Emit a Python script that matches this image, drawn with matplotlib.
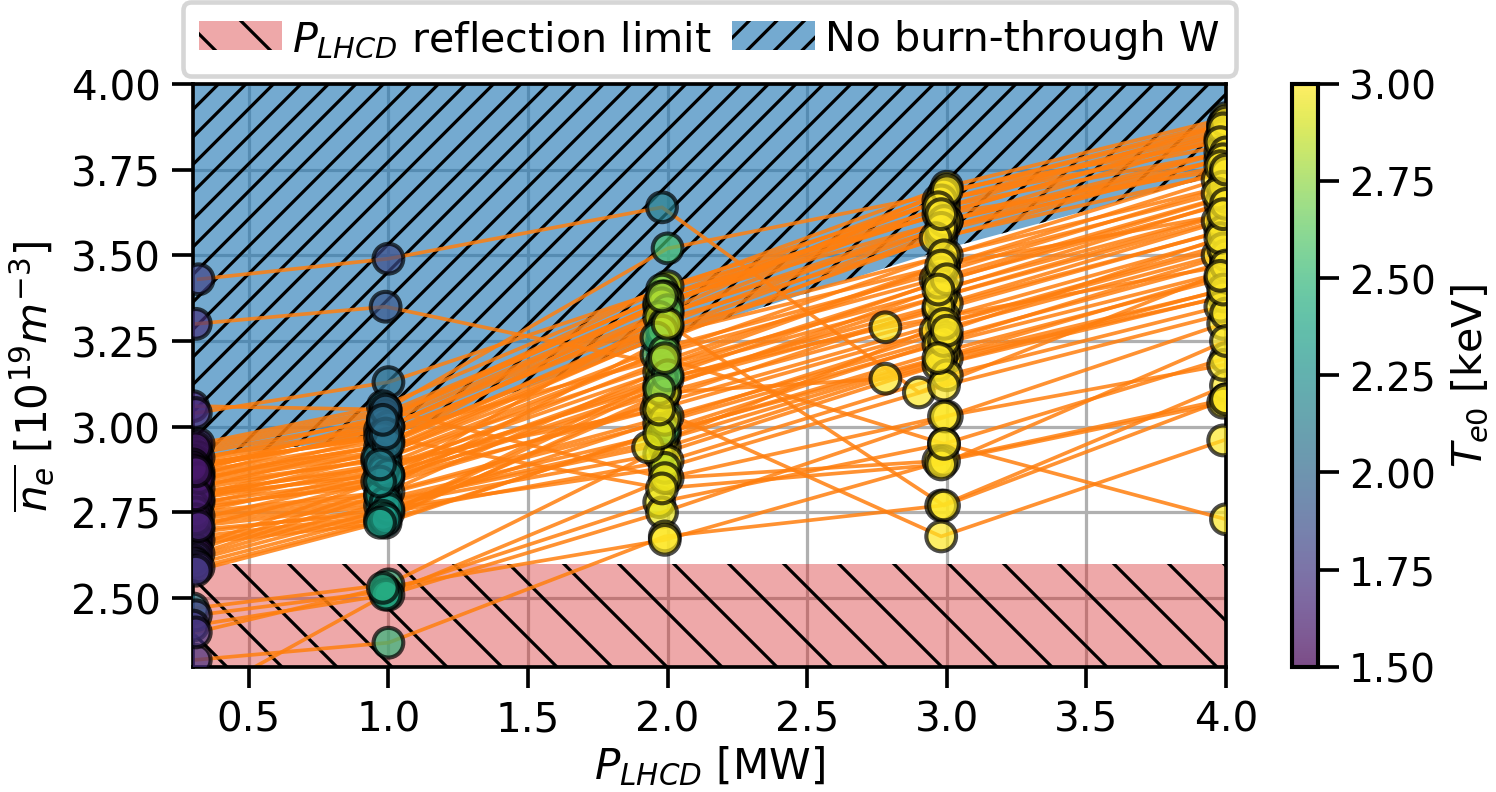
import numpy as np
import matplotlib
matplotlib.use("Agg")
import matplotlib.pyplot as plt

# P_LHCD scan levels and the burn-through boundary read at those levels
p_levels = [0.3, 1.0, 2.0, 3.0, 4.0]
burn_lim = [2.91, 2.97, 3.26, 3.52, 3.74]
refl_lim = 2.60

# one entry per simulated trajectory, one list per scan level
p_03 = [0.32, 0.31, 0.30, 0.31, 0.32, 0.30, 0.31, 0.30, 0.31, 0.30, 0.31,
        0.31, 0.30, 0.32, 0.31, 0.30, 0.31, 0.32, 0.30, 0.31, 0.31, 0.30, 0.32,
        0.31, 0.30, 0.31, 0.32, 0.31, 0.30, 0.31, 0.32, 0.30, 0.31, 0.31, 0.32,
        0.30, 0.31, 0.32, 0.31, 0.30, 0.31, 0.32, 0.31, 0.30, 0.31, 0.32, 0.31,
        0.30, 0.31, 0.32, 0.31, 0.30, 0.31, 0.32, 0.30, 0.31, 0.31, 0.32,
        0.31, 0.30, 0.32, 0.31, 0.30, 0.31]
p_10 = [1.00, 0.99, 0.99, 1.00, 0.98, 1.00, 0.99, 1.00, 1.00, 0.99, 0.98,
        0.99, 0.98, 1.00, 0.97, 0.99, 0.98, 1.00, 0.97, 0.99, 0.98, 0.96, 0.99,
        0.98, 1.00, 0.97, 0.99, 0.98, 0.96, 1.00, 0.97, 0.99, 0.98, 0.97, 1.00,
        0.99, 0.98, 0.97, 0.99, 1.00, 0.98, 0.97, 0.99, 1.00, 0.98, 0.99, 0.97,
        0.99, 0.98, 1.00, 0.97, 0.99, 0.98, 0.96, 0.99, 0.98, 1.00, 0.97,
        0.99, 0.98, 1.00, 0.97, 0.99, 0.98]
p_20 = [1.98, 1.99, 2.00, 1.99, 2.00, 1.99, 1.97, 1.98, 1.99, 2.00, 1.99,
        1.99, 1.98, 2.00, 1.97, 1.99, 1.98, 2.00, 1.97, 1.99, 1.98, 1.96, 1.99,
        1.98, 2.00, 1.97, 1.99, 1.98, 1.96, 2.00, 1.97, 1.99, 1.98, 1.97, 2.00,
        1.99, 1.98, 1.97, 1.99, 2.00, 1.98, 1.97, 1.93, 1.99, 1.98, 1.99, 1.97,
        1.99, 1.98, 2.00, 1.97, 1.99, 1.98, 1.96, 1.99, 1.98, 2.00, 1.97,
        1.99, 1.98, 2.00, 1.97, 1.99, 1.98]
p_30 = [2.90, 2.99, 2.99, 3.00, 2.99, 3.00, 2.99, 3.00, 2.98, 2.97, 2.99,
        2.99, 2.98, 3.00, 2.97, 2.99, 2.98, 3.00, 2.97, 2.99, 2.98, 2.96, 2.99,
        2.98, 3.00, 2.97, 2.99, 2.98, 2.96, 3.00, 2.97, 2.99, 2.98, 2.97, 3.00,
        2.99, 2.98, 2.97, 2.99, 3.00, 2.98, 2.97, 2.99, 3.00, 2.78, 2.78, 2.97,
        2.99, 2.98, 3.00, 2.97, 2.99, 2.98, 2.96, 2.99, 2.98, 3.00, 2.97,
        2.99, 2.98, 2.99, 2.98, 2.99, 2.98]
p_40 = [3.99, 4.00, 3.99, 4.00, 3.99, 4.00, 4.00, 3.99, 4.00, 4.00, 3.99,
        3.99, 4.00, 3.98, 4.00, 3.99, 3.98, 4.00, 3.99, 3.97, 4.00, 3.99, 3.98,
        4.00, 3.99, 3.98, 4.00, 3.99, 3.97, 4.00, 3.99, 3.98, 4.00, 3.99, 3.98,
        4.00, 3.97, 3.99, 4.00, 3.98, 3.99, 4.00, 3.99, 3.98, 4.00, 3.99, 3.98,
        4.00, 3.99, 3.98, 4.00, 3.99, 3.98, 4.00, 3.99, 3.97, 4.00, 3.99,
        3.99, 4.00, 4.00, 3.99, 4.00, 4.00]

ne_03 = [3.43, 3.30, 3.06, 3.04, 2.95, 2.47, 2.45, 2.42, 2.32, 2.20, 2.40,
         2.93, 2.92, 2.91, 2.90, 2.89, 2.88, 2.87, 2.86, 2.85, 2.84, 2.83, 2.82,
         2.81, 2.80, 2.79, 2.78, 2.77, 2.76, 2.75, 2.74, 2.73, 2.72, 2.71, 2.70,
         2.69, 2.68, 2.67, 2.66, 2.65, 2.64, 2.63, 2.62, 2.61, 2.60, 2.59, 2.58,
         2.90, 2.88, 2.86, 2.84, 2.82, 2.80, 2.79, 2.77, 2.75, 2.73, 2.71,
         2.94, 2.89, 2.85, 2.80, 2.88, 2.87]
ne_10 = [3.49, 3.35, 3.05, 3.13, 3.06, 2.54, 2.52, 2.51, 2.37, 2.51, 2.53,
         3.04, 3.02, 3.00, 2.99, 2.97, 2.98, 2.96, 2.94, 2.93, 2.92, 2.90, 2.91,
         2.88, 2.86, 2.87, 2.85, 2.83, 2.84, 2.81, 2.80, 2.79, 2.78, 2.77, 2.75,
         2.76, 2.74, 2.73, 2.72, 2.85, 2.82, 2.80, 2.78, 2.76, 2.74, 2.73, 2.72,
         3.03, 3.01, 3.00, 2.97, 2.95, 2.93, 2.91, 2.89, 2.87, 2.86, 2.84,
         3.05, 2.97, 2.95, 2.89, 2.98, 3.02]
ne_20 = [3.64, 3.18, 3.52, 3.40, 3.41, 2.94, 2.78, 2.75, 2.68, 2.85, 2.67,
         3.38, 3.40, 3.37, 3.35, 3.33, 3.31, 3.29, 3.36, 3.27, 3.23, 3.21, 3.18,
         3.16, 3.14, 3.12, 3.10, 3.07, 3.05, 3.03, 3.01, 2.98, 2.96, 2.92, 2.90,
         2.88, 3.12, 3.08, 2.99, 3.33, 3.25, 3.16, 2.94, 3.02, 3.14, 3.10, 2.98,
         3.38, 3.36, 3.34, 3.32, 3.30, 3.28, 3.26, 3.22, 3.19, 3.15, 3.11,
         2.85, 2.82, 3.30, 3.05, 3.20, 3.38]
ne_30 = [3.10, 3.47, 3.68, 3.70, 3.66, 3.20, 2.95, 3.03, 2.77, 2.90, 2.90,
         3.64, 3.62, 3.60, 3.66, 3.58, 3.55, 3.50, 3.62, 3.47, 3.45, 3.43, 3.40,
         3.38, 3.36, 3.34, 3.32, 3.30, 3.28, 3.26, 3.24, 3.22, 3.20, 3.18, 3.15,
         3.12, 3.38, 3.35, 3.25, 3.60, 3.57, 3.42, 3.30, 3.28, 3.29, 3.14, 3.20,
         3.68, 3.66, 3.69, 3.64, 3.60, 3.58, 3.55, 3.50, 3.47, 3.43, 3.40,
         3.03, 2.89, 2.77, 2.68, 2.95, 3.62]
ne_40 = [3.45, 3.62, 3.88, 3.90, 3.86, 3.38, 3.20, 3.30, 3.12, 3.08, 3.07,
         3.88, 3.86, 3.84, 3.82, 3.80, 3.78, 3.75, 3.85, 3.72, 3.70, 3.67, 3.65,
         3.62, 3.60, 3.57, 3.55, 3.53, 3.50, 3.48, 3.45, 3.43, 3.40, 3.38, 3.35,
         3.33, 3.60, 3.57, 3.50, 3.80, 3.78, 3.67, 3.52, 3.55, 3.47, 3.40, 3.44,
         3.89, 3.87, 3.83, 3.80, 3.78, 3.76, 3.74, 3.70, 3.68, 3.65, 3.62,
         3.18, 3.25, 3.08, 2.96, 2.73, 3.75]

te_03 = [1.80, 1.72, 1.65, 1.68, 1.62, 2.15, 1.80, 1.75, 1.70, 1.65, 1.72,
         1.60, 1.58, 1.63, 1.57, 1.66, 1.59, 1.62, 1.56, 1.64, 1.60, 1.55, 1.61,
         1.58, 1.67, 1.57, 1.62, 1.59, 1.65, 1.56, 1.60, 1.63, 1.58, 1.70, 1.61,
         1.57, 1.66, 1.59, 1.62, 1.74, 1.68, 1.60, 1.72, 1.65, 1.78, 1.69, 1.75,
         1.58, 1.61, 1.56, 1.63, 1.59, 1.57, 1.62, 1.60, 1.64, 1.58, 1.66,
         1.60, 1.63, 1.58, 1.62, 1.57, 1.61]
te_10 = [1.85, 1.90, 2.00, 2.05, 2.10, 2.45, 2.40, 2.42, 2.48, 2.40, 2.43,
         1.98, 2.02, 1.95, 2.05, 2.00, 2.08, 1.97, 2.12, 2.03, 2.10, 2.06, 2.15,
         2.09, 2.18, 2.12, 2.20, 2.14, 2.22, 2.16, 2.25, 2.19, 2.28, 2.21, 2.24,
         2.30, 2.26, 2.32, 2.18, 2.22, 2.27, 2.35, 2.29, 2.33, 2.38, 2.31, 2.36,
         1.96, 2.01, 2.04, 2.07, 2.11, 2.13, 2.17, 2.20, 2.23, 2.26, 2.28,
         2.02, 2.08, 2.10, 2.15, 2.06, 2.04]
te_20 = [2.15, 2.60, 2.55, 2.75, 2.85, 2.95, 2.95, 2.95, 3.00, 2.95, 3.00,
         2.85, 2.70, 2.90, 2.55, 2.80, 2.95, 2.60, 2.88, 2.50, 2.65, 2.45, 2.58,
         2.75, 2.52, 2.90, 2.62, 2.85, 2.95, 2.70, 2.92, 2.80, 2.98, 2.90, 2.96,
         2.85, 2.99, 2.93, 2.55, 2.65, 2.60, 2.88, 2.95, 2.97, 2.70, 2.96, 2.92,
         2.80, 2.92, 2.65, 2.88, 2.55, 2.75, 2.50, 2.68, 2.58, 2.62, 2.72,
         2.95, 2.97, 2.90, 2.96, 2.85, 2.78]
te_30 = [3.05, 3.10, 3.10, 3.15, 3.10, 3.20, 3.10, 3.10, 3.10, 3.10, 3.05,
         3.12, 3.18, 3.25, 3.10, 3.22, 3.15, 3.28, 3.11, 3.20, 3.16, 3.24, 3.13,
         3.19, 3.27, 3.14, 3.21, 3.17, 3.26, 3.12, 3.23, 3.18, 3.15, 3.29, 3.11,
         3.20, 3.16, 3.25, 3.13, 3.22, 3.19, 3.14, 3.05, 3.02, 2.98, 3.00, 3.18,
         3.24, 3.15, 3.28, 3.12, 3.20, 3.17, 3.26, 3.13, 3.22, 3.18, 3.15,
         3.10, 3.05, 3.08, 3.02, 3.12, 3.20]
te_40 = [3.30, 3.30, 3.35, 3.40, 3.35, 3.40, 3.30, 3.30, 3.20, 3.20, 3.20,
         3.42, 3.38, 3.45, 3.35, 3.40, 3.32, 3.48, 3.36, 3.44, 3.30, 3.41, 3.37,
         3.46, 3.33, 3.39, 3.43, 3.31, 3.47, 3.35, 3.40, 3.38, 3.44, 3.32, 3.45,
         3.36, 3.42, 3.30, 3.48, 3.34, 3.39, 3.37, 3.43, 3.31, 3.46, 3.35, 3.41,
         3.45, 3.38, 3.42, 3.35, 3.40, 3.33, 3.47, 3.36, 3.44, 3.31, 3.39,
         3.20, 3.25, 3.15, 3.10, 3.12, 3.40]

plt.rcParams['hatch.linewidth'] = 0.7
plt.rcParams['font.size'] = 8.8

P = np.array([p_03, p_10, p_20, p_30, p_40])
NE = np.array([ne_03, ne_10, ne_20, ne_30, ne_40])
TE = np.array([te_03, te_10, te_20, te_30, te_40])

fig = plt.figure(figsize=(1496 / 330, 793 / 330), dpi=330)
ax = fig.add_axes([0.129, 0.158, 0.6905, 0.735])
cax = fig.add_axes([0.8636, 0.158, 0.0174, 0.735])

ax.set_axisbelow(True)
ax.grid(True, color='#b0b0b0', lw=0.7)

refl = ax.axhspan(2.0, refl_lim, facecolor=(0.839, 0.153, 0.157, 0.4),
                  edgecolor='k', lw=0, hatch='\\\\', zorder=1,
                  label=r'$P_{LHCD}$ reflection limit')
burn = ax.fill_between(p_levels, burn_lim, 4.0,
                       facecolor=(0.122, 0.467, 0.706, 0.62),
                       edgecolor='k', lw=0, hatch='////', zorder=1,
                       label='No burn-through W')

for i in range(P.shape[1]):
    ax.plot(P[:, i], NE[:, i], color='#ff7f0e', lw=0.8, alpha=0.85, zorder=2)

sc = ax.scatter(P.ravel(), NE.ravel(), c=TE.ravel(), cmap='viridis',
                vmin=1.5, vmax=3.0, s=42, edgecolors='k', linewidths=0.9,
                alpha=0.7, zorder=3)

ax.set_xlim(0.3, 4.0)
ax.set_ylim(2.3, 4.0)
ax.set_xticks(np.arange(0.5, 4.01, 0.5))
ax.set_yticks(np.arange(2.5, 4.01, 0.25))
ax.yaxis.set_major_formatter(matplotlib.ticker.FormatStrFormatter('%.2f'))
ax.tick_params(length=4.6, width=0.8, pad=2.5, labelsize=8.8)
for s in ax.spines.values():
    s.set_linewidth(0.8)

ax.set_xlabel(r'$P_{LHCD}$ [MW]', fontsize=9.2, labelpad=1)
ax.set_ylabel(r'$\overline{n_e}\ [10^{19} m^{-3}]$', fontsize=9.2, labelpad=3)

ax.legend(handles=[refl, burn], loc='lower center', bbox_to_anchor=(0.5, 1.0),
          ncol=2, fontsize=9, borderaxespad=0.2, columnspacing=0.5,
          handletextpad=0.25)

cb = fig.colorbar(sc, cax=cax)
cb.set_label(r'$T_{e0}$ [keV]', fontsize=9, labelpad=3)
cb.set_ticks([1.5, 1.75, 2.0, 2.25, 2.5, 2.75, 3.0])
cb.ax.yaxis.set_major_formatter(matplotlib.ticker.FormatStrFormatter('%.2f'))
cb.ax.tick_params(length=4.6, width=0.8, pad=2.2, labelsize=8.5)
cb.outline.set_linewidth(0.9)

fig.savefig('out.png', dpi=330)
